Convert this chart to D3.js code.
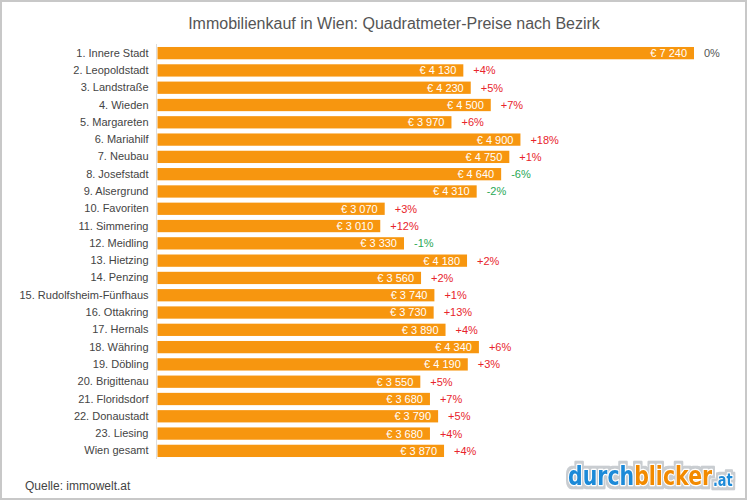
<!DOCTYPE html>
<html>
<head>
<meta charset="utf-8">
<script src="https://cdn.jsdelivr.net/npm/d3@7"></script>
<style>
  body { margin: 0; background: #fff; }
  svg { display: block; }
</style>
</head>
<body>
<div id="chart"></div>
<script>
// district names, price per m² and change to previous year
var districts = ["1. Innere Stadt", "2. Leopoldstadt", "3. Landstraße", "4. Wieden", "5. Margareten",
  "6. Mariahilf", "7. Neubau", "8. Josefstadt", "9. Alsergrund", "10. Favoriten", "11. Simmering",
  "12. Meidling", "13. Hietzing", "14. Penzing", "15. Rudolfsheim-Fünfhaus", "16. Ottakring",
  "17. Hernals", "18. Währing", "19. Döbling", "20. Brigittenau", "21. Floridsdorf", "22. Donaustadt",
  "23. Liesing", "Wien gesamt"];
var prices = [7240, 4130, 4230, 4500, 3970, 4900, 4750, 4640, 4310, 3070, 3010, 3330, 4180,
  3560, 3740, 3730, 3890, 4340, 4190, 3550, 3680, 3790, 3680, 3870];
var changes = [0, 4, 5, 7, 6, 18, 1, -6, -2, 3, 12, -1, 2, 2, 1, 13, 4, 6, 3, 5, 7, 5, 4, 4];

var W = 750, H = 502;
var svg = d3.select("#chart").append("svg")
  .attr("width", W)
  .attr("height", H);

// gray halo for the logo
var defs = svg.append("defs");
var f = defs.append("filter").attr("id", "halo").attr("x", "-10%").attr("y", "-30%").attr("width", "120%").attr("height", "160%");
f.append("feMorphology").attr("in", "SourceAlpha").attr("operator", "dilate").attr("radius", 2.5).attr("result", "d");
f.append("feFlood").attr("flood-color", "#c9cdd1");
f.append("feComposite").attr("in2", "d").attr("operator", "in").attr("result", "g");
var m = f.append("feMerge");
m.append("feMergeNode").attr("in", "g");
m.append("feMergeNode").attr("in", "SourceGraphic");

// outer frame
svg.append("rect")
  .attr("x", 1).attr("y", 1)
  .attr("width", 745).attr("height", 498)
  .attr("fill", "#fff")
  .attr("stroke", "#c8c8c8")
  .attr("stroke-width", 2);

svg.append("text")
  .text("Immobilienkauf in Wien: Quadratmeter-Preise nach Bezirk")
  .attr("x", 394).attr("y", 29)
  .attr("text-anchor", "middle")
  .attr("font-family", "Liberation Sans, Arial, sans-serif")
  .attr("font-size", "16px")
  .attr("fill", "#555");

var x = d3.scaleLinear()
  .domain([0, 7240])
  .range([157, 694]);

var y = d3.scaleBand()
  .domain(districts)
  .range([44.4, 459.6])
  .paddingInner(0.29)
  .paddingOuter(0.15);

// category axis, labels only
var yAxis = svg.append("g")
  .attr("transform", "translate(156.5,0)")
  .call(d3.axisLeft(y).tickSize(0).tickPadding(8));
yAxis.select(".domain").attr("stroke", "#ddd").attr("d", "M0,44V459");
yAxis.selectAll("text")
  .attr("font-family", "Liberation Sans, Arial, sans-serif")
  .attr("font-size", "11px")
  .attr("fill", "#444");

var fmt = function(v) { return "€ " + d3.format(",")(v).replace(",", " "); };

var rows = districts.map(function(d, i) { return {name: d, price: prices[i], change: changes[i]}; });

svg.selectAll(".bar")
  .data(rows)
  .enter()
  .append("rect")
  .attr("class", "bar")
  .attr("x", x(0) + 0.5)
  .attr("y", function(d) { return y(d.name); })
  .attr("width", function(d) { return x(d.price) - x(0) - 0.5; })
  .attr("height", y.bandwidth())
  .attr("fill", "#f7960f");

svg.selectAll(".val")
  .data(rows)
  .enter()
  .append("text")
  .attr("class", "val")
  .text(function(d) { return fmt(d.price); })
  .attr("x", function(d) { return x(d.price) - 7; })
  .attr("y", function(d) { return y(d.name) + y.bandwidth() / 2; })
  .attr("dy", "0.36em")
  .attr("text-anchor", "end")
  .attr("font-family", "Liberation Sans, Arial, sans-serif")
  .attr("font-size", "11px")
  .attr("fill", "#fff");

svg.selectAll(".chg")
  .data(rows)
  .enter()
  .append("text")
  .attr("class", "chg")
  .text(function(d) { return (d.change > 0 ? "+" : "") + d.change + "%"; })
  .attr("x", function(d) { return x(d.price) + 10; })
  .attr("y", function(d) { return y(d.name) + y.bandwidth() / 2; })
  .attr("dy", "0.36em")
  .attr("font-family", "Liberation Sans, Arial, sans-serif")
  .attr("font-size", "11px")
  .attr("fill", function(d) { return d.change > 0 ? "#e8242c" : (d.change < 0 ? "#2aa855" : "#555"); });

svg.append("text")
  .text("Quelle: immowelt.at")
  .attr("x", 25).attr("y", 490)
  .attr("font-family", "Liberation Sans, Arial, sans-serif")
  .attr("font-size", "12px")
  .attr("fill", "#444");

// logo, squeezed horizontally to fit its box
var logoG = svg.append("g").attr("filter", "url(#halo)");
var logo = logoG.append("text")
  .attr("font-family", "DejaVu Sans, sans-serif")
  .attr("font-weight", "bold")
  .attr("font-size", "27px")
  .attr("stroke", "#fff")
  .attr("stroke-width", 2.5)
  .attr("stroke-linejoin", "round")
  .attr("paint-order", "stroke");
logo.append("tspan").text("durch").attr("fill", "#1d8ad8");
logo.append("tspan").text("blicker").attr("fill", "#f28a00");
logo.append("tspan").text(".at").attr("fill", "#1d8ad8").attr("font-size", "17px").attr("dx", 1).attr("dy", 1);
var lw = logo.node().getComputedTextLength();
logoG.attr("transform", "translate(568,485) scale(" + (164 / lw) + ",1)");
</script>
</body>
</html>
